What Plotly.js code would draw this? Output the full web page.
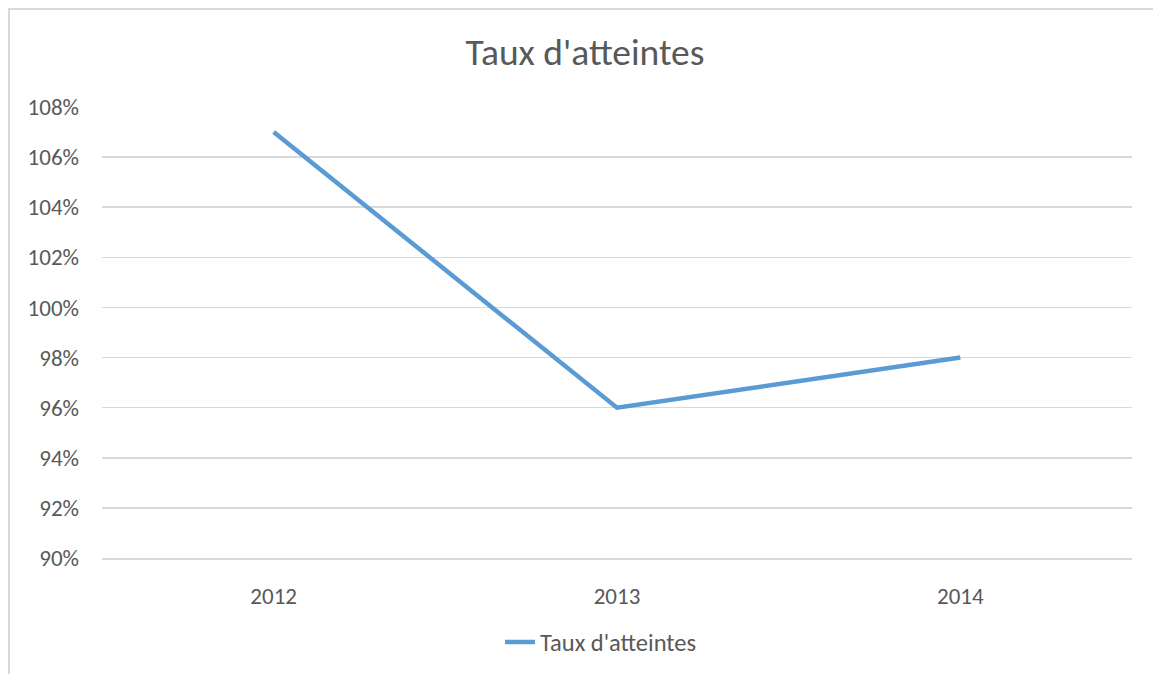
<!DOCTYPE html>
<html>
<head>
<meta charset="utf-8">
<script src="https://cdn.plot.ly/plotly-3.0.1.min.js"></script>
<style>
html,body{margin:0;padding:0;background:#fff;}
#wrap{position:relative;width:1153px;height:674px;overflow:hidden;}
#chart{position:absolute;left:0;top:0;width:1153px;height:674px;}
#frame{position:absolute;left:8px;top:8px;width:1200px;height:700px;border-left:2px solid #d9d9d9;border-top:2px solid #d9d9d9;pointer-events:none;}
</style>
</head>
<body>
<div id="wrap"><div id="chart"></div><div id="frame"></div></div>
<script>
const categories = ["2012", "2013", "2014"];
const tauxAtteintes = [1.07, 0.96, 0.98];
const seriesName = "Taux d'atteintes";
const chartTitle = "Taux d'atteintes";
const yTickValues = [0.90, 0.92, 0.94, 0.96, 0.98, 1.00, 1.02, 1.04, 1.06, 1.08];

const FONT = "Carlito, Calibri, Lato, 'Open Sans', sans-serif";
const trace = {
  x: categories,
  y: tauxAtteintes,
  type: "scatter",
  mode: "lines",
  name: seriesName,
  line: {color: "#5B9BD5", width: 4.5},
  showlegend: true
};
const layout = {
  width: 1153, height: 674,
  margin: {l: 102, r: 21, t: 107, b: 116},
  paper_bgcolor: "rgba(0,0,0,0)",
  plot_bgcolor: "#fff",
  font: {family: FONT, color: "#595959", size: 23},
  title: {text: chartTitle, font: {family: FONT, size: 37.5, color: "#595959", weight: 300}, x: 585/1153, xanchor: "center", xref: "container", y: 1 - 52/674, yanchor: "middle"},
  xaxis: {
    type: "category", range: [-0.5, 2.5],
    showgrid: false, zeroline: false,
    showline: true, linecolor: "#d9d9d9", linewidth: 1.5,
    ticks: "", ticklabelstandoff: 17,
    tickfont: {family: FONT, size: 23, color: "#595959"}
  },
  yaxis: {
    range: [0.9, 1.08], tickvals: yTickValues, tickformat: ".0%",
    showgrid: true, gridcolor: "#d9d9d9", gridwidth: 1.5,
    zeroline: false, showline: false, ticks: "", ticklabelstandoff: 22,
    tickfont: {family: FONT, size: 23, color: "#595959"}
  },
  showlegend: true,
  legend: {
    orientation: "h", xref: "container", yref: "container",
    x: 500/1153, xanchor: "left", y: 1 - 642/674, yanchor: "middle",
    font: {family: FONT, size: 24.5, color: "#595959"},
    bgcolor: "rgba(0,0,0,0)"
  }
};
Plotly.newPlot("chart", [trace], layout, {displayModeBar: false, staticPlot: true});
</script>
</body>
</html>
